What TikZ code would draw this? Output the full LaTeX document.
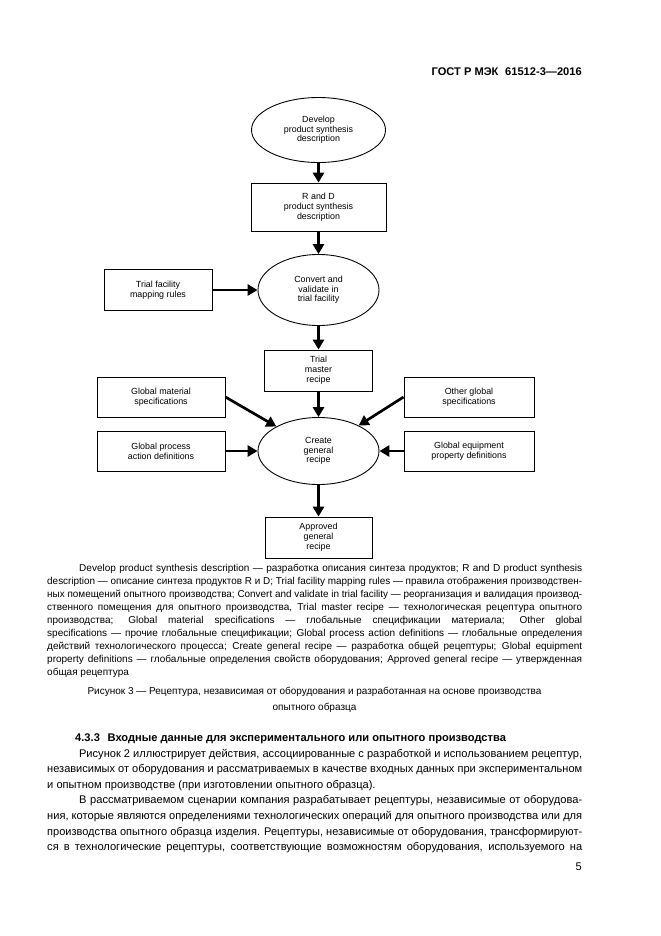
\documentclass[tikz,border=0pt]{standalone}
\usepackage{fontspec}
\setmainfont{Liberation Sans}
\usetikzlibrary{shapes.geometric,arrows.meta}
\newlength\tw \setlength\tw{481.5pt}
\newlength\ind \setlength\ind{28.8pt}
\newlength\natw
\newcommand\jline[1]{\setbox0\hbox{#1}\natw=\wd0\relax
  \ifdim\natw>\tw\pgfmathsetmacro\myr{\tw/\natw}\hbox{\scalebox{\myr}[1]{\box0}}\else\hbox to\tw{#1}\fi}
\tikzset{
  box/.style={draw, line width=0.8pt, inner sep=1pt, align=center, font=\fontsize{8}{9}\selectfont},
  oval/.style={ellipse, draw, line width=0.8pt, inner sep=1pt, align=center, font=\fontsize{8}{8.7}\selectfont},
  arr/.style={line width=2.4pt, -{Triangle[length=9pt,width=10pt]}},
  legline/.style={inner sep=0pt, anchor=base west, font=\fontsize{9}{11}\selectfont},
  bodyline/.style={inner sep=0pt, anchor=base west, font=\fontsize{10}{12}\selectfont},
  captline/.style={inner sep=0pt, anchor=base, font=\fontsize{9}{11}\selectfont}
}
\begin{document}
\begin{tikzpicture}[x=0.9pt,y=-0.9pt]
\useasboundingbox (0,0) rectangle (661,936);
\fill[white] (0,0) rectangle (661,936);
% header
\node[inner sep=0pt, anchor=base east, font=\bfseries\fontsize{10}{12}\selectfont] (hdr) at (582,75.5) {ГОСТ Р МЭК\hspace{0.6em}61512-3—2016};
% diagram
\node[oval, minimum width=120.6pt, minimum height=58.5pt] (dev) at (318.5,130) {Develop\\product synthesis\\description};
\node[box, minimum width=121.5pt, minimum height=43.2pt] (rd) at (318.5,207) {R and D\\product synthesis\\description};
\node[oval, minimum width=108.9pt, minimum height=63.9pt] (cv) at (318.5,290) {Convert and\\validate in\\trial facility};
\node[box, minimum width=97.2pt, minimum height=36.9pt] (tf) at (158,290) {Trial facility\\mapping rules};
\node[box, minimum width=97.2pt, minimum height=36.9pt] (tm) at (318.5,370.5) {Trial\\master\\recipe};
\node[box, minimum width=115.2pt, minimum height=36pt] (gm) at (161,397) {Global material\\specifications};
\node[box, minimum width=117pt, minimum height=36pt] (og) at (469,397) {Other global\\specifications};
\node[box, minimum width=115.2pt, minimum height=36pt] (gp) at (161,451) {Global process\\action definitions};
\node[box, minimum width=117pt, minimum height=36pt] (ge) at (469,451) {Global equipment\\property definitions};
\node[oval, minimum width=108.9pt, minimum height=60.3pt] (cg) at (318.5,451) {Create\\general\\recipe};
\node[box, minimum width=96.3pt, minimum height=36.9pt] (ap) at (318.5,537.5) {Approved\\general\\recipe};
\draw[arr] (dev.south) -- (rd.north);
\draw[arr] (rd.south) -- (cv.north);
\draw[arr] (tf.east) -- (cv.west);
\draw[arr] (cv.south) -- (tm.north);
\draw[arr] (tm.south) -- (cg.north);
\draw[arr] (gm.east) -- (cg);
\draw[arr] (og.west) -- (cg);
\draw[arr] (gp.east) -- (cg.west);
\draw[arr] (ge.west) -- (cg.east);
\draw[arr] (cg.south) -- (ap.north);
% legend
\node[legline] (l1) at (47,571.5) {\jline{\hskip\ind Develop product synthesis description — разработка описания синтеза продуктов; R and D product synthesis}};
\node[legline] (l2) at (47,584.5) {\jline{description — описание синтеза продуктов R и D; Trial facility mapping rules — правила отображения производствен-}};
\node[legline] (l3) at (47,597.5) {\jline{ных помещений опытного производства; Convert and validate in trial facility — реорганизация и валидация производ-}};
\node[legline] (l4) at (47,610.5) {\jline{ственного помещения для опытного производства, Trial master recipe — технологическая рецептура опытного}};
\node[legline] (l5) at (47,623.5) {\jline{производства; Global material specifications — глобальные спецификации материала; Other global}};
\node[legline] (l6) at (47,636.5) {\jline{specifications — прочие глобальные спецификации; Global process action definitions — глобальные определения}};
\node[legline] (l7) at (47,649.5) {\jline{действий технологического процесса; Create general recipe — разработка общей рецептуры; Global equipment}};
\node[legline] (l8) at (47,662.5) {\jline{property definitions — глобальные определения свойств оборудования; Approved general recipe — утвержденная}};
\node[legline] (l9) at (47,675.5) {общая рецептура};
% caption
\node[captline] (c1) at (314.5,694.5) {Рисунок 3 — Рецептура, независимая от оборудования и разработанная на основе производства};
\node[captline] (c2) at (314.5,710.5) {опытного образца};
% section
\node[inner sep=0pt, anchor=base west, font=\bfseries\fontsize{10}{12}\selectfont] (sec) at (75,741) {4.3.3\hspace{0.7em}Входные данные для экспериментального или опытного производства};
\node[bodyline] (b1) at (47,757) {\jline{\hskip\ind Рисунок 2 иллюстрирует действия, ассоциированные с разработкой и использованием рецептур,}};
\node[bodyline] (b2) at (47,772.6) {\jline{независимых от оборудования и рассматриваемых в качестве входных данных при экспериментальном}};
\node[bodyline] (b3) at (47,788.2) {и опытном производстве (при изготовлении опытного образца).};
\node[bodyline] (b4) at (47,803.8) {\jline{\hskip\ind В рассматриваемом сценарии компания разрабатывает рецептуры, независимые от оборудова-}};
\node[bodyline] (b5) at (47,819.4) {\jline{ния, которые являются определениями технологических операций для опытного производства или для}};
\node[bodyline] (b6) at (47,835) {\jline{производства опытного образца изделия. Рецептуры, независимые от оборудования, трансформируют-}};
\node[bodyline] (b7) at (47,850.6) {\jline{ся в технологические рецептуры, соответствующие возможностям оборудования, используемого на}};
\node[inner sep=0pt, anchor=base east, font=\fontsize{10}{12}\selectfont] (pg) at (582,870) {5};
\end{tikzpicture}
\end{document}
